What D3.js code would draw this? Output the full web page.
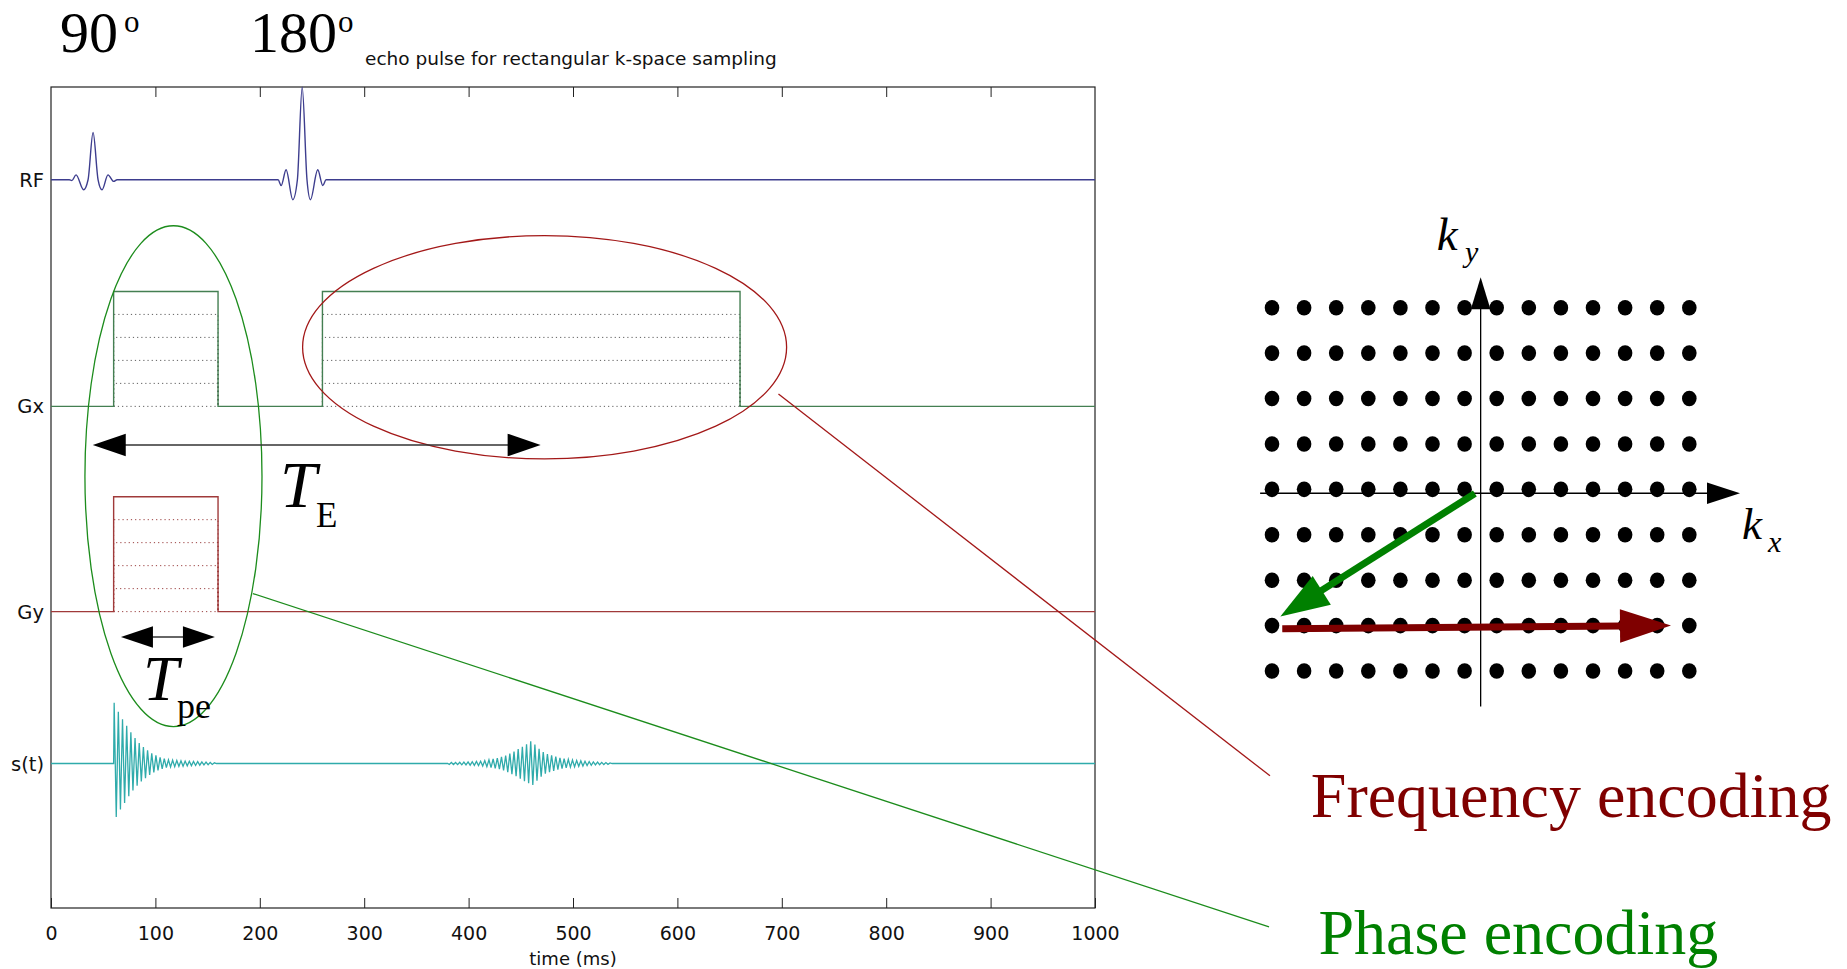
<!DOCTYPE html>
<html>
<head>
<meta charset="utf-8">
<script src="https://cdn.jsdelivr.net/npm/d3@7"></script>
<style>
  body { margin: 0; background: #fff; }
  svg { display: block; }
  .sans { font-family: "DejaVu Sans", "Liberation Sans", sans-serif; fill: #111; }
  .serif { font-family: "Liberation Serif", "Times New Roman", serif; fill: #000; }
</style>
</head>
<body>
<div id="chart"></div>
<script>
// ---------------- data ----------------
var timeTicks = [0, 100, 200, 300, 400, 500, 600, 700, 800, 900, 1000];
var channels = ["RF", "Gx", "Gy", "s(t)"];
var channelOffsets = [88.7, 61.1, 36.1, 17.6];   // baseline of each trace, plot units

// RF pulses: [time ms, amplitude]
var rf90 = [[17.5, 0], [20, -0.1], [24, 0.6], [31.2, -1.22], [35.5, 0], [40.3, 5.75],
            [45.1, 0], [48.9, -1.22], [54.6, 0.6], [60, -0.2], [63.3, 0]];
var rf180 = [[217.5, 0], [220.5, -0.7], [225.2, 1.22], [231.6, -2.43], [236, 0], [240.6, 11.27],
             [245.2, 0], [248.5, -2.43], [255.5, 1.22], [260.3, -0.7], [263.5, 0]];

// gradients
var gradAmp = 14;
var gxPulses = [[60, 160], [260, 660]];
var gyPulses = [[60, 160]];
var gradLevels = [0, 0.2, 0.4, 0.6, 0.8];

// signal: FID after the 90, echo after the 180 (peaks every 2 ms)
var fidStart = 60.5, fidStep = 2;
var fidPeaks = [7.4, -6.5, 6.3, -5.6, 5.4, -4.8, 4.6, -4.0, 3.8, -3.3, 3.1, -2.7, 2.5, -2.2, 2.0,
                -1.8, 1.6, -1.4, 1.25, -1.1, 1.0, -0.85, 0.75, -0.65, 0.6, -0.5, 0.45, -0.42, 0.4,
                -0.38, 0.36, -0.34, 0.33, -0.32, 0.3, -0.28, 0.28, -0.26, 0.25, -0.24, 0.23, -0.2,
                0.2, -0.18, 0.17, -0.15, 0.13, -0.11, 0.09];
var echoStart = 381.5, echoStep = 2;
var echoPeaks = [-0.12, 0.12, -0.13, 0.13, -0.14, 0.15, -0.16, 0.17, -0.18, 0.2, -0.2, 0.22, -0.22,
                 0.25, -0.25, 0.28, -0.3, 0.35, -0.38, 0.45, -0.5, 0.55, -0.6, 0.65, -0.7, 0.8, -0.85,
                 0.95, -1.05, 1.2, -1.3, 1.45, -1.55, 1.75, -1.85, 2.05, -2.15, 2.35, -2.4, 2.7, -2.6,
                 2.3, -2.1, 1.8, -1.6, 1.4, -1.25, 1.15, -1.05, 1.0, -0.9, 0.85, -0.75, 0.7, -0.62,
                 0.58, -0.52, 0.5, -0.45, 0.42, -0.4, 0.37, -0.34, 0.32, -0.3, 0.28, -0.26, 0.24,
                 -0.22, 0.2, -0.18, 0.17, -0.15, 0.14, -0.13, 0.12, -0.1, 0.08];

// annotations in plot units
var teSpan = [40, 469], teLevel = 56.4;
var tpeSpan = [67, 157], tpeLevel = 33.0;
var phaseEllipse = { t: 117.3, v: 52.6, dt: 84.8, dv: 30.5 };
var freqEllipse = { t: 472.8, v: 68.3, dt: 231.8, dv: 13.6 };
var freqLeader = [[696.8, 62.6], [1167.6, 16.1]];
var phaseLeader = [[193.4, 38.3], [1166.7, -2.3]];

// k-space grid
var kxCols = [-6.5, -5.5, -4.5, -3.5, -2.5, -1.5, -0.5, 0.5, 1.5, 2.5, 3.5, 4.5, 5.5, 6.5];
var kyRows = [4, 3, 2, 1, 0, -1, -2, -3, -4];
var kAxisY = -0.086;
var kxAxis = [-6.87, 8.08];
var kyAxis = [-4.78, 4.67];
var phaseArrow = [[-0.18, -0.09], [-6.24, -2.8]];
var freqArrow = [[-6.18, -3.07], [5.93, -3.0]];

// ---------------- drawing ----------------
var W = 1847, H = 969;
var svg = d3.select("#chart").append("svg")
    .attr("width", W)
    .attr("height", H);

var x = d3.scaleLinear().domain([0, 1000]).range([51, 1095]);
var y = d3.scaleLinear().domain([0, 100]).range([908, 87]);

var colors = { RF: "#3d3d8e", Gx: "#447f52", Gy: "#a03a3a", st: "#2fabab" };

// frame
svg.append("rect")
    .attr("x", x(0)).attr("y", y(100))
    .attr("width", x(1000) - x(0)).attr("height", y(0) - y(100))
    .attr("fill", "none").attr("stroke", "#222").attr("stroke-width", 1.2);

var xAxis = d3.axisBottom(x).tickValues(timeTicks).tickFormat(d3.format("d"))
    .tickSizeInner(-10).tickSizeOuter(0).tickPadding(19);
var gx = svg.append("g").attr("transform", "translate(0," + y(0) + ")").call(xAxis);
gx.select(".domain").remove();
gx.selectAll("line").attr("stroke", "#222");
gx.selectAll("text").attr("class", "sans").style("font-size", "19px").attr("fill", "#111");

var topAxis = d3.axisTop(x).tickValues(timeTicks.slice(1, -1)).tickSizeInner(-10).tickSizeOuter(0).tickFormat("");
var gt = svg.append("g").attr("transform", "translate(0," + y(100) + ")").call(topAxis);
gt.select(".domain").remove();
gt.selectAll("line").attr("stroke", "#222");

svg.append("text")
    .attr("class", "sans")
    .attr("x", x(500)).attr("y", 965)
    .attr("text-anchor", "middle")
    .style("font-size", "18px")
    .text("time (ms)");

// channel labels
channels.forEach(function(c, i){
    svg.append("text")
        .attr("class", "sans")
        .attr("x", 44).attr("y", y(channelOffsets[i]) + 7)
        .attr("text-anchor", "end")
        .style("font-size", "19.5px")
        .text(c);
});

function trace(off){
    return d3.line().x(d => x(d[0])).y(d => y(off + d[1]));
}

// RF
var rfPts = [[0, 0]].concat(rf90, rf180, [[1000, 0]]);
svg.append("path")
    .attr("d", trace(channelOffsets[0]).curve(d3.curveMonotoneX)(rfPts))
    .attr("fill", "none").attr("stroke", colors.RF).attr("stroke-width", 1.4);

// gradients
function gradPts(pulses, amp){
    var pts = [[0, 0]];
    pulses.forEach(function(p){
        pts.push([p[0], 0], [p[0], amp], [p[1], amp], [p[1], 0]);
    });
    pts.push([1000, 0]);
    return pts;
}
function drawGrad(pulses, off, col, dotCol){
    pulses.forEach(function(p){
        gradLevels.forEach(function(l){
            svg.append("path")
                .attr("d", trace(off)([[p[0], 0], [p[0], l * gradAmp], [p[1], l * gradAmp], [p[1], 0]]))
                .attr("fill", "none").attr("stroke", dotCol).attr("stroke-width", 1)
                .attr("stroke-dasharray", "1.2,3").attr("opacity", 0.85);
        });
    });
    svg.append("path")
        .attr("d", trace(off)(gradPts(pulses, gradAmp)))
        .attr("fill", "none").attr("stroke", col).attr("stroke-width", 1.4);
}
drawGrad(gxPulses, channelOffsets[1], colors.Gx, "#444");
drawGrad(gyPulses, channelOffsets[2], colors.Gy, "#8a2020");

// s(t)
var sPts = [[0, 0], [fidStart - 0.5, 0]];
fidPeaks.forEach(function(v, i){ sPts.push([fidStart + i * fidStep, v]); });
sPts.push([fidStart + fidPeaks.length * fidStep, 0]);
sPts.push([echoStart - 1.5, 0]);
echoPeaks.forEach(function(v, i){ sPts.push([echoStart + i * echoStep, v]); });
sPts.push([echoStart + echoPeaks.length * echoStep, 0], [1000, 0]);
svg.append("path")
    .attr("d", trace(channelOffsets[3])(sPts))
    .attr("fill", "none").attr("stroke", colors.st).attr("stroke-width", 1.3);

// headings
svg.append("text").attr("class", "serif").attr("x", 60).attr("y", 52).style("font-size", "58px").text("90");
svg.append("text").attr("class", "serif").attr("x", 124).attr("y", 32).style("font-size", "31px").text("o");
svg.append("text").attr("class", "serif").attr("x", 250).attr("y", 52).style("font-size", "58px").text("180");
svg.append("text").attr("class", "serif").attr("x", 338).attr("y", 32).style("font-size", "31px").text("o");
svg.append("text").attr("class", "sans")
    .attr("x", 365).attr("y", 65)
    .style("font-size", "18.5px")
    .text("echo pulse for rectangular k-space sampling");

// arrow helpers
function head(g, xf, yf, xt, yt, len, half, col){
    var a = Math.atan2(yt - yf, xt - xf), c = Math.cos(a), s = Math.sin(a);
    var bx = xt - len * c, by = yt - len * s;
    g.append("path")
        .attr("d", "M" + xt + "," + yt + "L" + (bx - half * s) + "," + (by + half * c) +
                   "L" + (bx + half * s) + "," + (by - half * c) + "Z")
        .attr("fill", col);
}
function arrow(g, x1, y1, x2, y2, len, half, w, col){
    var a = Math.atan2(y2 - y1, x2 - x1);
    g.append("line")
        .attr("x1", x1).attr("y1", y1)
        .attr("x2", x2 - (len - 2) * Math.cos(a)).attr("y2", y2 - (len - 2) * Math.sin(a))
        .attr("stroke", col).attr("stroke-width", w);
    head(g, x1, y1, x2, y2, len, half, col);
}

// ellipses
var ann = svg.append("g");
[[phaseEllipse, "#1c8c1c"], [freqEllipse, "#a31818"]].forEach(function(e){
    var d = e[0];
    ann.append("ellipse")
        .attr("cx", x(d.t)).attr("cy", y(d.v))
        .attr("rx", x(d.t + d.dt) - x(d.t)).attr("ry", y(d.v - d.dv) - y(d.v))
        .attr("fill", "none").attr("stroke", e[1]).attr("stroke-width", 1.3);
});

// leader lines
[[freqLeader, "#a31818"], [phaseLeader, "#1c8c1c"]].forEach(function(l){
    ann.append("line")
        .attr("x1", x(l[0][0][0])).attr("y1", y(l[0][0][1]))
        .attr("x2", x(l[0][1][0])).attr("y2", y(l[0][1][1]))
        .attr("stroke", l[1]).attr("stroke-width", 1.3);
});

// TE and Tpe double arrows
function dbl(span, lvl, len, half){
    var xa = x(span[0]), xb = x(span[1]), yy = y(lvl);
    ann.append("line").attr("x1", xa + 5).attr("x2", xb - 5).attr("y1", yy).attr("y2", yy)
        .attr("stroke", "#333").attr("stroke-width", 1.5);
    head(ann, xb, yy, xa, yy, len, half, "#000");
    head(ann, xa, yy, xb, yy, len, half, "#000");
}
dbl(teSpan, teLevel, 33, 11.3);
dbl(tpeSpan, tpeLevel, 32, 10.7);

svg.append("text").attr("class", "serif").attr("x", 280).attr("y", 507)
    .style("font-size", "66px").style("font-style", "italic").text("T");
svg.append("text").attr("class", "serif").attr("x", 316).attr("y", 527)
    .style("font-size", "35px").text("E");
svg.append("text").attr("class", "serif").attr("x", 143).attr("y", 700)
    .style("font-size", "64px").style("font-style", "italic").text("T");
svg.append("text").attr("class", "serif").attr("x", 177).attr("y", 718)
    .style("font-size", "36px").text("pe");

// ---------------- k-space ----------------
var kx = d3.scaleLinear().domain([-6.5, 6.5]).range([1272, 1689.3]);
var ky = d3.scaleLinear().domain([4, -4]).range([307.7, 671]);
var kg = svg.append("g");

// axes
arrow(kg, kx(kxAxis[0]), ky(kAxisY), kx(kxAxis[1]), ky(kAxisY), 33, 10.7, 1.3, "#000");
arrow(kg, kx(0), ky(kyAxis[0]), kx(0), ky(kyAxis[1]), 32, 9.8, 1.3, "#000");

// dots
kyRows.forEach(function(r){
    kg.selectAll(null)
        .data(kxCols)
        .enter().append("ellipse")
        .attr("cx", d => kx(d))
        .attr("cy", ky(r))
        .attr("rx", 7.3)
        .attr("ry", 7.8)
        .attr("fill", "#000");
});

arrow(kg, kx(phaseArrow[0][0]), ky(phaseArrow[0][1]), kx(phaseArrow[1][0]), ky(phaseArrow[1][1]), 49, 17, 7, "#008000");
arrow(kg, kx(freqArrow[0][0]), ky(freqArrow[0][1]), kx(freqArrow[1][0]), ky(freqArrow[1][1]), 51, 16.7, 7, "#7f0000");

svg.append("text").attr("class", "serif").attr("x", 1436.7).attr("y", 250)
    .style("font-size", "47px").style("font-style", "italic").text("k");
svg.append("text").attr("class", "serif").attr("x", 1465).attr("y", 262)
    .style("font-size", "30px").style("font-style", "italic").text("y");
svg.append("text").attr("class", "serif").attr("x", 1742).attr("y", 539)
    .style("font-size", "45px").style("font-style", "italic").text("k");
svg.append("text").attr("class", "serif").attr("x", 1768).attr("y", 552)
    .style("font-size", "30px").style("font-style", "italic").text("x");

svg.append("text").attr("class", "serif").attr("x", 1310.8).attr("y", 817.3)
    .style("font-size", "64px").style("fill", "#800000").text("Frequency encoding");
svg.append("text").attr("class", "serif").attr("x", 1318.4).attr("y", 954)
    .style("font-size", "64px").style("fill", "#008000").text("Phase encoding");
</script>
</body>
</html>
